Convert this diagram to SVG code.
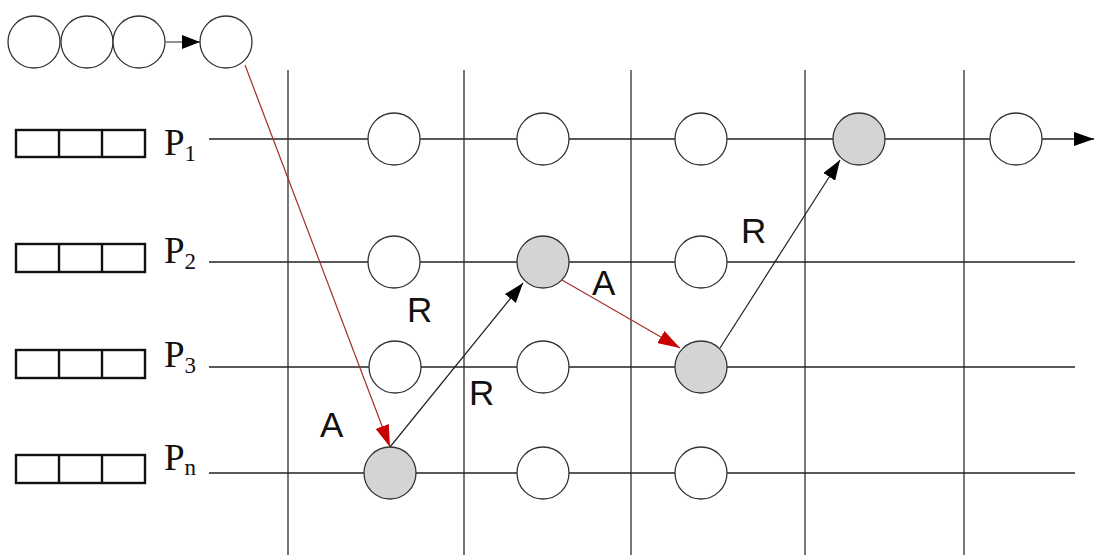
<svg xmlns="http://www.w3.org/2000/svg" width="1096" height="555" viewBox="0 0 1096 555">
<defs>
<style>
.c{fill:#fff;stroke:#333;stroke-width:1.3}
.g{fill:#d4d4d4;stroke:#333;stroke-width:1.3}
.grid{stroke:#555;stroke-width:1.6}
.h{stroke:#222;stroke-width:1.5}
.box{fill:#fff;stroke:#111;stroke-width:2.4}
.lab{font-family:"Liberation Serif",serif;font-size:37px;fill:#111}
.sub{font-size:23px}
.ar{font-family:"Liberation Sans",Arial,sans-serif;font-size:35px;fill:#111}
.blk{stroke:#222;stroke-width:1.2;fill:none}
.red{stroke:#a3302c;stroke-width:1.2;fill:none}
</style>
<marker id="mb" markerUnits="userSpaceOnUse" markerWidth="20" markerHeight="14" refX="20" refY="7" orient="auto"><path d="M0,0 L20,7 L0,14 z" fill="#000"/></marker>
<marker id="mr" markerUnits="userSpaceOnUse" markerWidth="22" markerHeight="14" refX="22" refY="7" orient="auto"><path d="M0,0 L22,7 L0,14 z" fill="#c80000"/></marker>
<marker id="ms" markerUnits="userSpaceOnUse" markerWidth="18" markerHeight="14" refX="18" refY="7" orient="auto"><path d="M0,0 L18,7 L0,14 z" fill="#000"/></marker>
</defs>
<rect width="1096" height="555" fill="#fff"/>
<g id="grid">
<line class="grid" x1="288" y1="70" x2="288" y2="555"/>
<line class="grid" x1="464" y1="70" x2="464" y2="555"/>
<line class="grid" x1="631" y1="70" x2="631" y2="555"/>
<line class="grid" x1="805" y1="70" x2="805" y2="555"/>
<line class="grid" x1="964" y1="70" x2="964" y2="555"/>
</g>
<g id="timelines">
<line class="h" x1="209" y1="139" x2="1094" y2="139" marker-end="url(#mb)"/>
<line class="h" x1="209" y1="262" x2="1075" y2="262"/>
<line class="h" x1="209" y1="367" x2="1075" y2="367"/>
<line class="h" x1="209" y1="473" x2="1075" y2="473"/>
</g>
<g id="queue">
<circle class="c" cx="34" cy="42" r="26"/>
<circle class="c" cx="87" cy="42" r="26"/>
<circle class="c" cx="139" cy="42" r="26"/>
<circle class="c" cx="226" cy="42" r="26"/>
</g>
<g id="buffers">
<g id="buf1"><rect class="box" x="16" y="130" width="129" height="27"/><line class="box" x1="59" y1="130" x2="59" y2="157"/><line class="box" x1="102" y1="130" x2="102" y2="157"/></g>
<g id="buf2"><rect class="box" x="16" y="244" width="129" height="28"/><line class="box" x1="59" y1="244" x2="59" y2="272"/><line class="box" x1="102" y1="244" x2="102" y2="272"/></g>
<g id="buf3"><rect class="box" x="16" y="350" width="129" height="28"/><line class="box" x1="59" y1="350" x2="59" y2="378"/><line class="box" x1="102" y1="350" x2="102" y2="378"/></g>
<g id="bufn"><rect class="box" x="16" y="455" width="129" height="28"/><line class="box" x1="59" y1="455" x2="59" y2="483"/><line class="box" x1="102" y1="455" x2="102" y2="483"/></g>
</g>
<g id="labels">
<text class="lab" x="164" y="155">P<tspan class="sub" dy="6">1</tspan></text>
<text class="lab" x="164" y="263">P<tspan class="sub" dy="6">2</tspan></text>
<text class="lab" x="164" y="367">P<tspan class="sub" dy="6">3</tspan></text>
<text class="lab" x="164" y="470">P<tspan class="sub" dy="5">n</tspan></text>
</g>
<g id="nodes">
<circle class="c" cx="394" cy="139" r="26"/>
<circle class="c" cx="543" cy="139" r="26"/>
<circle class="c" cx="701" cy="139" r="26"/>
<circle class="g" cx="859" cy="139" r="26"/>
<circle class="c" cx="1016" cy="139" r="26"/>
<circle class="c" cx="394" cy="262" r="26"/>
<circle class="g" cx="543" cy="262" r="26"/>
<circle class="c" cx="701" cy="262" r="26"/>
<circle class="c" cx="395" cy="367" r="26"/>
<circle class="c" cx="543" cy="367" r="26"/>
<circle class="g" cx="701" cy="367" r="26"/>
<circle class="g" cx="390" cy="473" r="26"/>
<circle class="c" cx="543" cy="473" r="26"/>
<circle class="c" cx="701" cy="473" r="26"/>
</g>
<g id="connectors">
<line class="blk" x1="166" y1="42" x2="200" y2="42" marker-end="url(#ms)"/>
<line class="red" x1="245" y1="65" x2="390" y2="447" marker-end="url(#mr)"/>
<line class="blk" x1="390" y1="447" x2="523" y2="283" marker-end="url(#mb)"/>
<line class="red" x1="562" y1="280" x2="680" y2="348" marker-end="url(#mr)"/>
<line class="blk" x1="720" y1="348" x2="840" y2="160" marker-end="url(#mb)"/>
</g>
<g id="edge-labels">
<text class="ar" x="320" y="437">A</text>
<text class="ar" x="407" y="322">R</text>
<text class="ar" x="469" y="405">R</text>
<text class="ar" x="592" y="295">A</text>
<text class="ar" x="741" y="243">R</text>
</g>
</svg>
